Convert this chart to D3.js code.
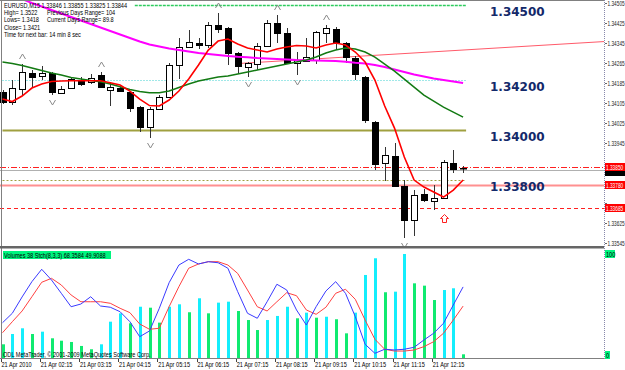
<!DOCTYPE html>
<html>
<head>
<meta charset="utf-8">
<script src="https://cdnjs.cloudflare.com/ajax/libs/d3/7.8.5/d3.min.js"></script>
<style>
body{margin:0;background:#fff;}
svg{display:block;}
text{font-family:"Liberation Sans",Arial,sans-serif;font-size:7px;}
</style>
</head>
<body>
<div id="chart"></div>
<script>
// EURUSD M15, 21 Apr 2010, bars 01:15 .. 12:45
var openP  = [1.34150,1.34110,1.34162,1.34226,1.34214,1.34226,1.34146,1.34166,1.34198,1.34190,1.34218,1.34158,1.34166,1.34150,1.34090,1.34010,1.34082,1.34130,1.34258,1.34330,1.34346,1.34338,1.34418,1.34406,1.34306,1.34250,1.34262,1.34334,1.34426,1.34386,1.34266,1.34274,1.34278,1.34386,1.34402,1.34346,1.34286,1.34210,1.34030,1.33866,1.33894,1.33774,1.33638,1.33742,1.33714,1.33726,1.33866,1.33846]
var highP  = [1.34158,1.34198,1.34262,1.34238,1.34254,1.34230,1.34174,1.34210,1.34210,1.34222,1.34230,1.34186,1.34170,1.34154,1.34094,1.34090,1.34138,1.34266,1.34366,1.34398,1.34366,1.34430,1.34466,1.34410,1.34310,1.34270,1.34346,1.34438,1.34458,1.34406,1.34310,1.34366,1.34394,1.34418,1.34410,1.34350,1.34294,1.34214,1.34034,1.33930,1.33946,1.33798,1.33758,1.33762,1.33778,1.33878,1.33918,1.33855]
var lowP   = [1.34102,1.34098,1.34138,1.34170,1.34198,1.34138,1.34142,1.34162,1.34174,1.34182,1.34166,1.34094,1.34150,1.34070,1.33990,1.33966,1.34078,1.34126,1.34202,1.34326,1.34322,1.34326,1.34386,1.34258,1.34222,1.34210,1.34238,1.34334,1.34346,1.34262,1.34218,1.34270,1.34262,1.34346,1.34318,1.34266,1.34198,1.34026,1.33838,1.33794,1.33770,1.33566,1.33574,1.33710,1.33678,1.33726,1.33826,1.33825]
var closeP = [1.34110,1.34166,1.34230,1.34210,1.34226,1.34150,1.34162,1.34202,1.34182,1.34206,1.34170,1.34170,1.34154,1.34086,1.34010,1.34082,1.34130,1.34258,1.34330,1.34350,1.34338,1.34418,1.34402,1.34306,1.34254,1.34266,1.34334,1.34426,1.34386,1.34266,1.34278,1.34290,1.34390,1.34406,1.34350,1.34290,1.34222,1.34038,1.33862,1.33898,1.33774,1.33638,1.33738,1.33718,1.33726,1.33870,1.33842,1.33844]

var maFast = [1.34122,1.34112,1.34134,1.34166,1.34182,1.34192,1.34194,1.34195,1.34195,1.34195,1.34195,1.34187,1.34178,1.34154,1.34122,1.34096,1.34094,1.34118,1.34154,1.34202,1.34258,1.34318,1.34354,1.34362,1.34342,1.34326,1.34318,1.34310,1.34322,1.34330,1.34336,1.34334,1.34326,1.34338,1.34346,1.34338,1.34310,1.34270,1.34198,1.34094,1.34006,1.33890,1.33798,1.33770,1.33750,1.33730,1.33758,1.33798]
var maMid  = [1.34270,1.34264,1.34256,1.34246,1.34236,1.34226,1.34218,1.34208,1.34202,1.34196,1.34191,1.34182,1.34171,1.34160,1.34152,1.34147,1.34147,1.34154,1.34168,1.34182,1.34194,1.34202,1.34210,1.34214,1.34222,1.34230,1.34238,1.34246,1.34254,1.34262,1.34270,1.34278,1.34290,1.34306,1.34318,1.34326,1.34322,1.34310,1.34290,1.34262,1.34234,1.34202,1.34170,1.34138,1.34114,1.34090,1.34070,1.34050]
var maSlow = [1.34554,1.34538,1.34522,1.34506,1.34492,1.34478,1.34464,1.34450,1.34436,1.34422,1.34408,1.34394,1.34380,1.34366,1.34352,1.34340,1.34332,1.34324,1.34318,1.34312,1.34306,1.34302,1.34298,1.34294,1.34291,1.34289,1.34286,1.34284,1.34282,1.34280,1.34278,1.34277,1.34276,1.34275,1.34274,1.34271,1.34267,1.34264,1.34258,1.34250,1.34240,1.34230,1.34220,1.34212,1.34204,1.34198,1.34192,1.34186]

var fractalUp = [2, 10, 22, 28, 33]
var fractalDown = [5, 15, 25, 30, 41]
var signalBar = 45, signalPrice = 1.33645
var trendBars = [24, 61.4]
var trendPrices = [1.34264, 1.34352]

var levelPrices = [1.34500, 1.34200, 1.34000, 1.33800]
var levelStart = [13.5, 0, 0, 0]
var orderPrices = [1.33850, 1.33780, 1.33685]

var volumes = [141,247,306,247,271,203,178,165,124,90,141,374,460,357,528,518,364,528,553,471,615,460,570,580,484,391,288,391,433,528,409,467,415,425,399,254,467,855,1027,677,683,1071,769,745,597,700,718,38]
var volUp = [0,1,1,0,1,0,0,0,0,0,1,1,1,0,1,0,0,1,1,0,1,0,1,1,0,0,0,1,1,1,0,1,0,1,0,0,1,1,1,0,1,1,0,0,0,1,1,0]
var stochK = [33.9,43.0,58.7,73.4,85.3,75.0,62.2,49.3,51.9,58.9,50.0,48.8,44.5,34.9,20.5,26.0,47.8,72.4,89.4,94.9,90.4,92.6,91.6,86.3,63.8,43.0,38.2,54.1,70.9,65.4,46.2,31.7,49.3,64.4,73.4,62.2,39.7,13.2,4.5,8.4,7.7,8.4,10.3,17.3,23.8,33.4,51.0,68.3584]
var stochD = [24.3,34.9,45.2,58.9,72.8,76.6,70.2,60.6,54.1,54.1,54.1,52.6,47.8,43.6,32.7,27.6,28.6,49.3,68.6,86.3,90.4,92.6,92.6,89.4,81.3,65.4,49.3,45.2,54.1,62.8,59.9,46.2,42.0,48.8,62.2,66.1,56.4,36.5,18.0,8.4,6.7,6.7,7.7,10.9,15.7,23.8,36.5,49.9088]

var timeBars = [0,4,8,12,16,20,24,28,32,36,40,44]
var timeLabels = ["21 Apr 2010","21 Apr 02:15","21 Apr 03:15","21 Apr 04:15","21 Apr 05:15","21 Apr 06:15","21 Apr 07:15","21 Apr 08:15","21 Apr 09:15","21 Apr 10:15","21 Apr 11:15","21 Apr 12:15"]
var priceTicks = [1.34505,1.34425,1.34345,1.34265,1.34185,1.34105,1.34025,1.33945,1.33865,1.33785,1.33705,1.33625,1.33545]

var infoLines = ["High= 1.3522","Lows= 1.3418","Close= 1.3421","Time for next bar: 14 min 8 sec"]
var infoRight = ["Previous Days Range= 104","Current Days Range= 89.8"]

var width = 625, height = 370, axisX = 604
var f5 = d3.format('.5f'), f4 = d3.format('.4f')
var px = function(v){ return Math.round(v) + 0.5 }
// MetaTrader's bitmap font is narrow, squeeze the text horizontally
var at = function(tx, ty, s){ return 'translate(' + tx + ',' + ty + ') scale(' + (s || 0.8) + ',1)' }

var x = d3.scaleLinear().domain([0, 47]).range([2.5, 463.1])
var y = d3.scaleLinear().domain([1.33545, 1.34505]).range([243.3, 3.3])
var yStoch = d3.scaleLinear().domain([0, 100]).range([358, 254])
var yVol = d3.scaleLinear().domain([0, 1071]).range([358, 254])
var bars = d3.range(closeP.length)

var svg = d3.select('#chart').append('svg')
  .attr('width', width)
  .attr('height', height)

var defs = svg.append('defs')
defs.append('clipPath').attr('id', 'clipTop').append('rect')
  .attr('x', 0).attr('y', 0).attr('width', axisX).attr('height', 246)
defs.append('clipPath').attr('id', 'clipLow').append('rect')
  .attr('x', 0).attr('y', 249).attr('width', axisX).attr('height', 109)

var upper = svg.append('g').attr('clip-path', 'url(#clipTop)')

// level lines
var levelStyle = [
  {color: '#2ecc5e', dash: '3,1', w: 1.5},
  {color: '#40d0d0', dash: '1,2', w: 1},
  {color: '#a0a040', dash: null, w: 2},
  {color: '#a0a040', dash: '2,2', w: 1}
]
levelPrices.forEach(function(p, k){
  upper.append('line')
    .attr('x1', x(levelStart[k])).attr('x2', x(47) + 3)
    .attr('y1', px(y(p))).attr('y2', px(y(p)))
    .attr('stroke', levelStyle[k].color)
    .attr('stroke-width', levelStyle[k].w)
    .attr('stroke-dasharray', levelStyle[k].dash)
})

// order lines across the chart
var orderStyle = [
  {color: '#ff2020', dash: '6,2,1,2', w: 1},
  {color: '#ff9090', dash: null, w: 2},
  {color: '#ff2020', dash: '4,3', w: 1}
]
upper.append('line')
  .attr('x1', 0).attr('x2', axisX)
  .attr('y1', px(y(closeP[47])) + 1).attr('y2', px(y(closeP[47])) + 1)
  .attr('stroke', '#b0b0b0')
orderPrices.forEach(function(p, k){
  upper.append('line')
    .attr('x1', 0).attr('x2', axisX)
    .attr('y1', px(y(p))).attr('y2', px(y(p)))
    .attr('stroke', orderStyle[k].color)
    .attr('stroke-width', orderStyle[k].w)
    .attr('stroke-dasharray', orderStyle[k].dash)
})

// trend line
upper.append('line')
  .attr('x1', x(trendBars[0])).attr('y1', y(trendPrices[0]))
  .attr('x2', x(trendBars[1])).attr('y2', y(trendPrices[1]))
  .attr('stroke', '#ff5a6a')

// candles
upper.selectAll('.wick').data(bars).enter().append('line')
  .attr('class', 'wick')
  .attr('x1', function(i){ return px(x(i)) })
  .attr('x2', function(i){ return px(x(i)) })
  .attr('y1', function(i){ return Math.round(y(highP[i])) })
  .attr('y2', function(i){ return Math.round(y(lowP[i])) })
  .attr('stroke', '#333')
upper.selectAll('.body').data(bars).enter().append('rect')
  .attr('class', 'body')
  .attr('x', function(i){ return px(x(i)) - 3 })
  .attr('width', 6)
  .attr('y', function(i){ return Math.round(y(Math.max(openP[i], closeP[i]))) + 0.5 })
  .attr('height', function(i){ return Math.max(0.5, Math.round(Math.abs(y(openP[i]) - y(closeP[i])))) })
  .attr('fill', function(i){ return closeP[i] > openP[i] ? '#fff' : '#000' })
  .attr('stroke', '#000')

// moving averages
var line = d3.line()
  .x(function(d, i){ return x(i) })
  .y(function(d){ return y(d) })
upper.append('path').datum(maSlow).attr('d', line)
  .attr('fill', 'none').attr('stroke', '#ff00ff').attr('stroke-width', 2)
upper.append('path').datum(maMid).attr('d', line)
  .attr('fill', 'none').attr('stroke', '#137a13').attr('stroke-width', 1.5)
upper.append('path').datum(maFast).attr('d', line)
  .attr('fill', 'none').attr('stroke', '#ff0000').attr('stroke-width', 1.6)

// fractals
upper.selectAll('.fup').data(fractalUp).enter().append('path')
  .attr('d', function(i){
    var cx = px(x(i)), cy = Math.round(y(highP[i])) - 7
    return 'M' + (cx - 3) + ',' + (cy + 2) + 'L' + cx + ',' + (cy - 3) + 'L' + (cx + 3) + ',' + (cy + 2)
  })
  .attr('fill', 'none').attr('stroke', '#8a8a8a')
upper.selectAll('.fdn').data(fractalDown).enter().append('path')
  .attr('d', function(i){
    var cx = px(x(i)), cy = Math.round(y(lowP[i])) + 7
    return 'M' + (cx - 3) + ',' + (cy - 2) + 'L' + cx + ',' + (cy + 3) + 'L' + (cx + 3) + ',' + (cy - 2)
  })
  .attr('fill', 'none').attr('stroke', '#8a8a8a')

// signal arrow
var sx = px(x(signalBar)), sy = Math.round(y(signalPrice)) + 0.5
svg.append('path')
  .attr('d', 'M' + sx + ',' + (sy - 4) + 'L' + (sx + 4) + ',' + sy + 'L' + (sx + 2) + ',' + sy +
    'L' + (sx + 2) + ',' + (sy + 4) + 'L' + (sx - 2) + ',' + (sy + 4) + 'L' + (sx - 2) + ',' + sy +
    'L' + (sx - 4) + ',' + sy + 'Z')
  .attr('fill', '#fff').attr('stroke', '#ff2020')

// big level labels
svg.selectAll('.lvl').data(levelPrices).enter().append('text')
  .attr('x', 490)
  .attr('y', function(p){ return y(p) + 11.5 })
  .style('font-family', '"DejaVu Sans", Verdana, sans-serif')
  .style('font-size', '12px')
  .style('font-weight', 'bold')
  .attr('fill', '#13296a')
  .text(function(p){ return f5(p) })

// header texts
svg.append('text').attr('transform', at(4, 7.5))
  .text('EURUSD,M15  ' + [openP[47], highP[47], lowP[47], closeP[47]].map(f5).join(' '))
svg.selectAll('.info').data(infoLines).enter().append('text')
  .attr('transform', function(d, k){ return at(4, 15 + k * 7.4) })
  .text(function(d){ return d })
svg.selectAll('.info2').data(infoRight).enter().append('text')
  .attr('transform', function(d, k){ return at(47, 15 + k * 7.4) })
  .text(function(d){ return d })

// borders
svg.append('line').attr('x1', 0).attr('x2', axisX).attr('y1', 0.5).attr('y2', 0.5).attr('stroke', '#808080')
svg.append('line').attr('x1', 1.5).attr('x2', 1.5).attr('y1', 0).attr('y2', 358).attr('stroke', '#808080')
svg.append('rect').attr('x', 0).attr('y', 246).attr('width', axisX).attr('height', 2.5).attr('fill', '#666')
svg.append('line').attr('x1', 0).attr('x2', axisX).attr('y1', 358.5).attr('y2', 358.5).attr('stroke', '#808080')
svg.append('line').attr('x1', axisX + 0.5).attr('x2', axisX + 0.5).attr('y1', 0).attr('y2', 359)
  .attr('stroke', '#8888aa').attr('stroke-dasharray', '1,1')

// price axis (labels hidden under the order boxes are skipped)
var boxPrices = orderPrices.concat([closeP[47]])
var shownTicks = priceTicks.filter(function(p){
  return boxPrices.every(function(b){ return Math.abs(y(b) - y(p)) > 6 })
})
svg.selectAll('.ptick').data(priceTicks).enter().append('line')
  .attr('x1', axisX + 1).attr('x2', axisX + 3)
  .attr('y1', function(p){ return px(y(p)) }).attr('y2', function(p){ return px(y(p)) })
  .attr('stroke', '#666')
svg.selectAll('.plab').data(shownTicks).enter().append('text')
  .attr('transform', function(p){ return at(axisX + 3.5, y(p) + 2.5, 0.68) })
  .attr('fill', '#222')
  .text(function(p){ return f5(p) })

// bid + order price boxes
var bidY = Math.round(y(closeP[47]))
svg.append('rect').attr('x', axisX + 1).attr('y', bidY - 1).attr('width', 20).attr('height', 8).attr('fill', '#000')
svg.selectAll('.obox').data(orderPrices).enter().append('rect')
  .attr('x', axisX + 1).attr('y', function(p){ return Math.round(y(p)) - 4 })
  .attr('width', 20).attr('height', 8).attr('fill', '#ff0000')
svg.selectAll('.olab').data(orderPrices).enter().append('text')
  .attr('transform', function(p){ return at(axisX + 2, Math.round(y(p)) + 2.5, 0.68) })
  .attr('fill', '#fff')
  .text(function(p){ return f5(p) })

// lower pane
var low = svg.append('g').attr('clip-path', 'url(#clipLow)')
low.selectAll('.vol').data(bars).enter().append('rect')
  .attr('x', function(i){ return Math.round(x(i)) - 1 })
  .attr('width', 3)
  .attr('y', function(i){ return yVol(volumes[i]) })
  .attr('height', function(i){ return 358 - yVol(volumes[i]) })
  .attr('fill', function(i){ return volUp[i] ? '#14eefc' : '#10ea70' })
var sline = d3.line()
  .x(function(d, i){ return x(i) })
  .y(function(d){ return yStoch(d) })
low.append('path').datum(stochD).attr('d', sline)
  .attr('fill', 'none').attr('stroke', '#ff4040').attr('stroke-width', 1)
low.append('path').datum(stochK).attr('d', sline)
  .attr('fill', 'none').attr('stroke', '#3a3aff').attr('stroke-width', 1)

svg.append('rect').attr('x', 3).attr('y', 251).attr('width', 108).attr('height', 8).attr('fill', '#00f57f')
svg.append('text').attr('transform', at(4, 257.5))
  .text('Volumes ' + volumes[47] + '  Stch(8,3,3) ' + f4(stochK[47]) + ' ' + f4(stochD[47]))
svg.append('text').attr('transform', at(3, 357))
  .text('ODL MetaTrader, \u00a9 2001-2009 MetaQuotes Software Corp.')

svg.append('rect').attr('x', axisX + 1).attr('y', 250).attr('width', 10).attr('height', 8).attr('fill', '#00f57f')
svg.append('text').attr('transform', at(axisX + 2, 256.5)).text('100')
svg.append('rect').attr('x', axisX + 1).attr('y', 351).attr('width', 5).attr('height', 8).attr('fill', '#00f57f')
svg.append('text').attr('transform', at(axisX + 2, 357.5)).text('0')

// time axis
svg.selectAll('.ttick').data(timeBars).enter().append('line')
  .attr('x1', function(b){ return px(x(b)) - 2 }).attr('x2', function(b){ return px(x(b)) - 2 })
  .attr('y1', 359).attr('y2', 362)
  .attr('stroke', '#444')
svg.selectAll('.tlab').data(timeBars).enter().append('text')
  .attr('transform', function(b){ return at(x(b) - 1, 367) })
  .text(function(b, k){ return timeLabels[k] })
</script>
</body>
</html>
